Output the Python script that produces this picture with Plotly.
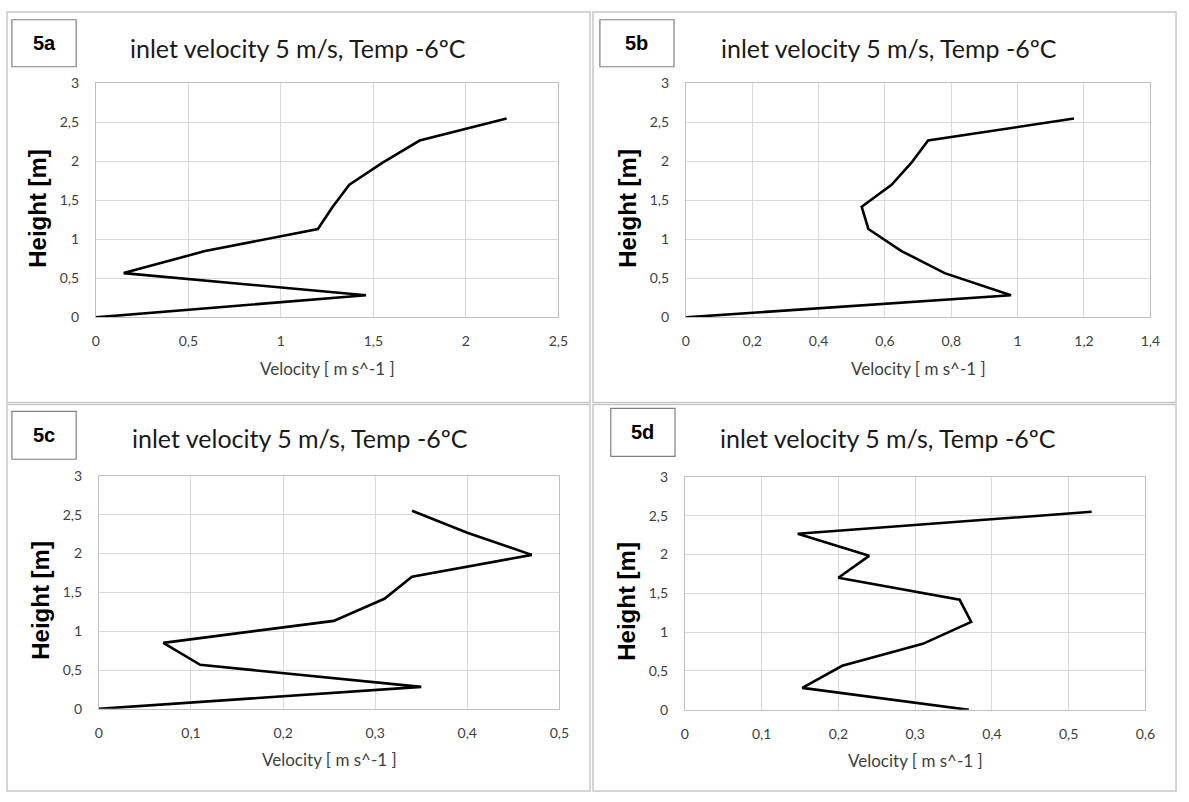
import plotly.graph_objects as go

W, H = 1189, 802

heights = [0, 0.283, 0.567, 0.85, 1.133, 1.417, 1.7, 1.983, 2.267, 2.55]

vel_5a = [0, 1.46, 0.15, 0.59, 1.2, 1.28, 1.37, 1.55, 1.75, 2.22]
vel_5b = [0, 0.98, 0.78, 0.65, 0.55, 0.53, 0.62, 0.68, 0.73, 1.17]
vel_5c = [0, 0.35, 0.11, 0.07, 0.255, 0.31, 0.34, 0.47, 0.40, 0.34]
vel_5d = [0.37, 0.153, 0.205, 0.31, 0.373, 0.358, 0.2, 0.24, 0.147, 0.53]

panel_labels = ["5a", "5b", "5c", "5d"]
panel_title = "inlet velocity 5 m/s, Temp -6ºC"
x_title = "Velocity [ m s^-1 ]"
y_title = "Height [m]"
x_ranges = [(0, 2.5), (0, 1.4), (0, 0.5), (0, 0.6)]
x_dticks = [0.5, 0.2, 0.1, 0.1]
series = [vel_5a, vel_5b, vel_5c, vel_5d]

# pixel layout: plot areas (x0, x1, y0, y1) and panel frames
plots_px = [(93, 561, 76, 315), (690, 1160, 76, 315), (96, 562, 477, 715), (689, 1155, 478, 716)]
frames_px = [(3, 593, 3, 402), (596, 1186, 3, 402), (3, 593, 404, 799), (596, 1186, 404, 799)]
boxes_px = [(8, 73, 11, 59), (603, 678, 11, 59), (8, 73, 411, 460), (614, 679, 408, 457)]
title_cx = [297, 896, 300, 895]


def px(x):
    return x / W


def py(y):
    return 1 - y / H


fig = go.Figure()
shapes = []
annotations = []
tick_font = dict(family="Lato, Open Sans, sans-serif", size=14, color="#404040")

for i in range(4):
    ax = "" if i == 0 else str(i + 1)
    x0, x1, y0, y1 = plots_px[i]
    fig.add_trace(go.Scatter(
        x=series[i], y=heights, mode="lines",
        line=dict(color="black", width=2.6),
        xaxis="x" + ax, yaxis="y" + ax, showlegend=False,
        hoverinfo="x+y",
    ))
    fig.layout["xaxis" + ax] = dict(
        domain=[px(x0), px(x1)], anchor="y" + ax,
        range=list(x_ranges[i]), dtick=x_dticks[i], tick0=0,
        showgrid=True, gridcolor="#d9d9d9", gridwidth=1,
        showline=True, linecolor="#bfbfbf", linewidth=1, mirror=True,
        zeroline=False, ticks="outside", ticklen=11, tickcolor="rgba(0,0,0,0)",
        tickfont=tick_font, fixedrange=True,
    )
    fig.layout["yaxis" + ax] = dict(
        domain=[py(y1), py(y0)], anchor="x" + ax,
        range=[0, 3], dtick=0.5, tick0=0,
        showgrid=True, gridcolor="#d9d9d9", gridwidth=1,
        showline=True, linecolor="#bfbfbf", linewidth=1, mirror=True,
        zeroline=False, ticks="outside", ticklen=13, tickcolor="rgba(0,0,0,0)",
        tickfont=tick_font, fixedrange=True,
    )
    # panel frame
    fx0, fx1, fy0, fy1 = frames_px[i]
    shapes.append(dict(type="rect", xref="paper", yref="paper",
                       x0=px(fx0), x1=px(fx1), y0=py(fy1), y1=py(fy0),
                       line=dict(color="#c8c8c8", width=1.5), layer="below"))
    # label box
    bx0, bx1, by0, by1 = boxes_px[i]
    shapes.append(dict(type="rect", xref="paper", yref="paper",
                       x0=px(bx0), x1=px(bx1), y0=py(by1), y1=py(by0),
                       line=dict(color="#7f7f7f", width=1.2), fillcolor="white"))
    annotations.append(dict(text="<b>%s</b>" % panel_labels[i], xref="paper", yref="paper",
                            x=px((bx0 + bx1) / 2), y=py((by0 + by1) / 2),
                            showarrow=False, xanchor="center", yanchor="middle",
                            font=dict(family="Liberation Sans, Arial", size=20, color="black")))
    # title
    annotations.append(dict(text=panel_title, xref="paper", yref="paper",
                            x=px(title_cx[i]), y=py(fy0 + 37 if i < 2 else fy0 + 34),
                            showarrow=False, xanchor="center", yanchor="middle",
                            font=dict(family="Lato, Open Sans, sans-serif", size=25, color="#1a1a1a")))
    # x axis title
    annotations.append(dict(text=x_title, xref="paper", yref="paper",
                            x=px((x0 + x1) / 2), y=py(y1 + 52),
                            showarrow=False, xanchor="center", yanchor="middle",
                            font=dict(family="Lato, Open Sans, sans-serif", size=17, color="#404040")))
    # y axis title
    annotations.append(dict(text="<b>%s</b>" % y_title, xref="paper", yref="paper",
                            x=px(x0 - 59), y=py((y0 + y1) / 2 + 8), textangle=-90,
                            showarrow=False, xanchor="center", yanchor="middle",
                            font=dict(family="Liberation Sans, Arial", size=24, color="black")))

fig.update_layout(
    width=W, height=H, margin=dict(l=0, r=0, t=0, b=0),
    paper_bgcolor="white", plot_bgcolor="white",
    separators=", ", shapes=shapes, annotations=annotations,
    showlegend=False,
)

fig.write_html("out.html", config={"displayModeBar": False},
               post_script="document.body.style.margin='0';document.body.style.overflow='hidden';")
